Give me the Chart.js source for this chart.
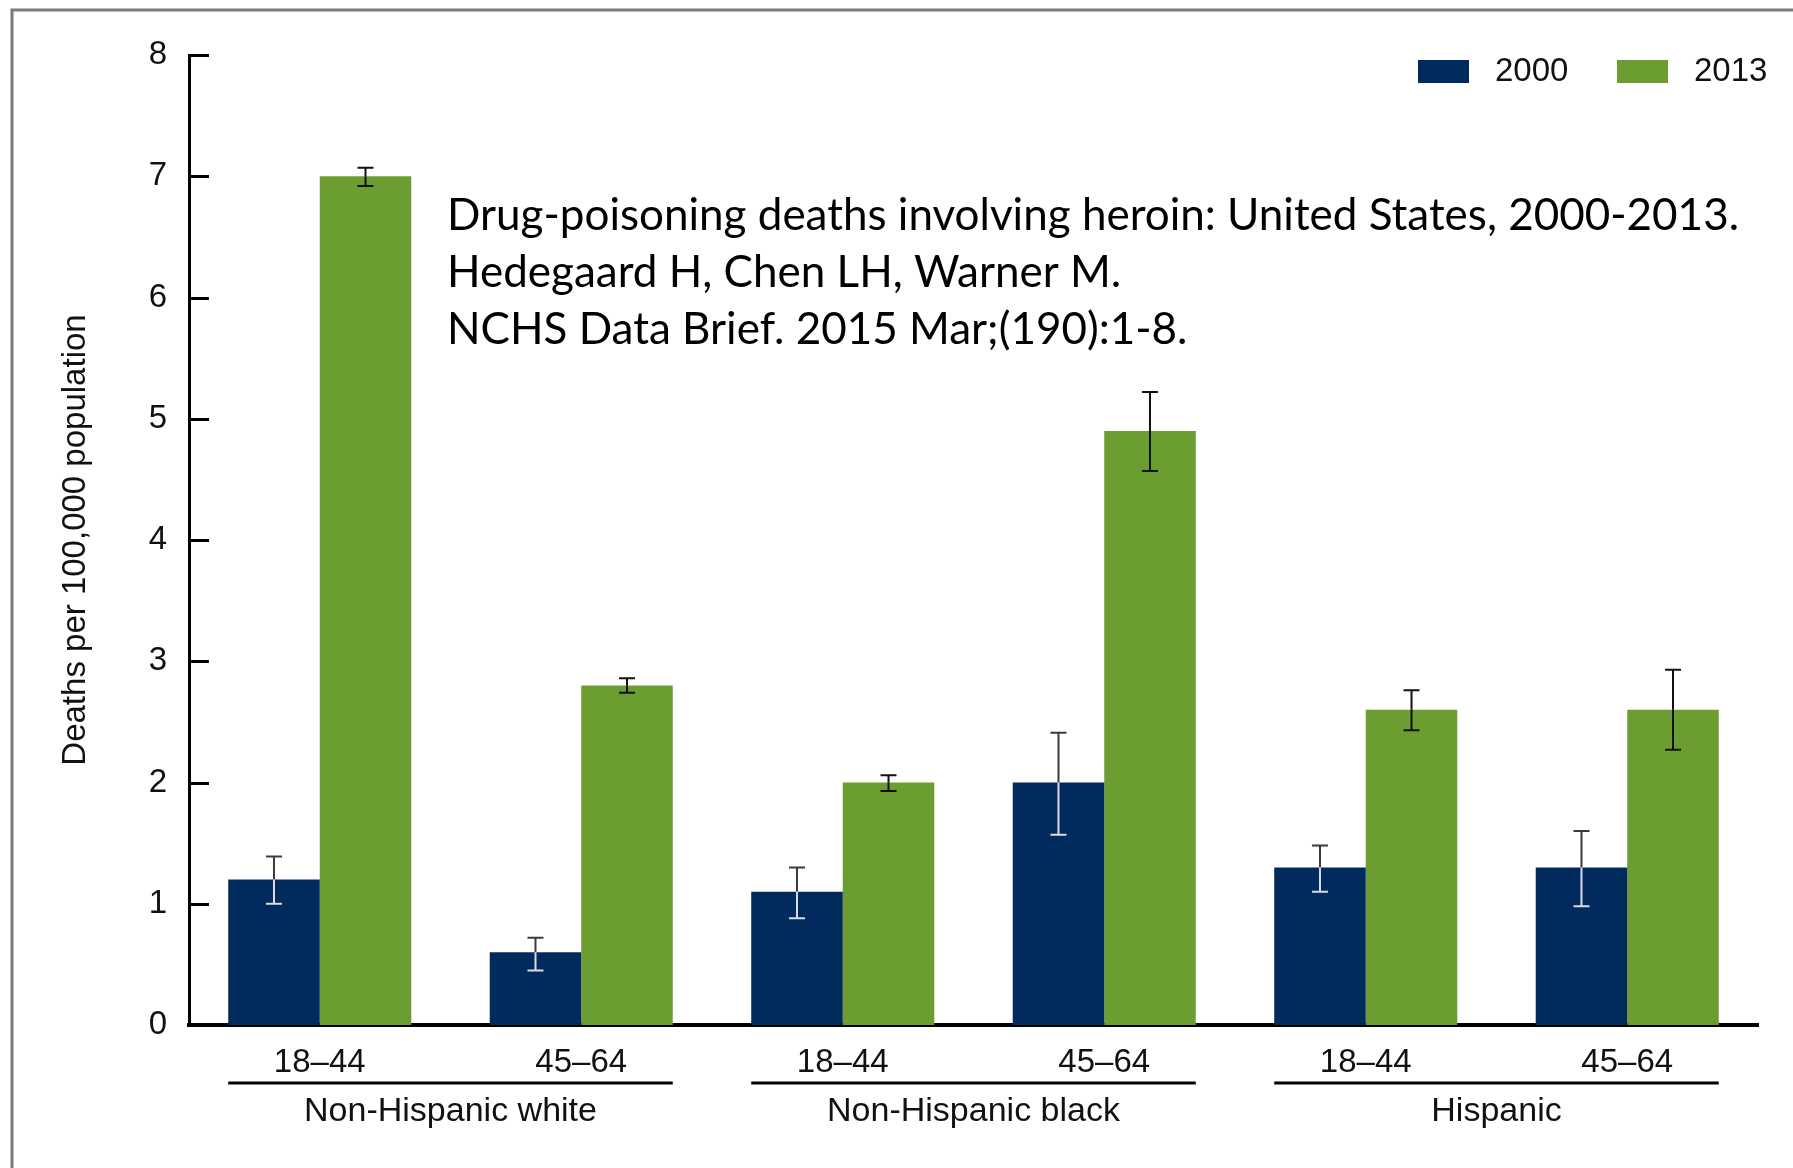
<!DOCTYPE html>
<html>
<head>
<meta charset="utf-8">
<script src="https://cdn.jsdelivr.net/npm/chart.js@4.4.1/dist/chart.umd.min.js"></script>
<style>
  html, body { margin: 0; padding: 0; background: #fff; }
  #wrap { width: 1793px; height: 1168px; }
</style>
</head>
<body>
<div id="wrap"><canvas id="heroinChart"></canvas></div>
<script>
// Age groups along the x axis, three race/ethnicity groups of two
const ageGroups = ['18–44', '45–64', '18–44', '45–64', '18–44', '45–64'];
const raceGroups = ['Non-Hispanic white', 'Non-Hispanic black', 'Hispanic'];
const years = ['2000', '2013'];

// Deaths per 100,000 population
const rate2000 = [1.2, 0.6, 1.1, 2.0, 1.3, 1.3];
const rate2013 = [7.0, 2.8, 2.0, 4.9, 2.6, 2.6];

// 95% confidence intervals
const low2000 = [1.0, 0.45, 0.88, 1.57, 1.1, 0.98];
const high2000 = [1.39, 0.72, 1.3, 2.41, 1.48, 1.6];
const low2013 = [6.92, 2.74, 1.93, 4.57, 2.43, 2.27];
const high2013 = [7.07, 2.86, 2.06, 5.22, 2.76, 2.93];

const yTicks = [0, 1, 2, 3, 4, 5, 6, 7, 8];

const citation = [
  'Drug-poisoning deaths involving heroin: United States, 2000-2013.',
  'Hedegaard H, Chen LH, Warner M.',
  'NCHS Data Brief. 2015 Mar;(190):1-8.'
];

const BLUE = '#002B5C';
const GREEN = '#6B9D31';
const FONT = 'Liberation Sans, Arial, sans-serif';

// frame, inward tick marks, group rules, error bars, legend and citation
const decorations = {
  id: 'decorations',
  beforeDraw(chart) {
    const ctx = chart.ctx;
    ctx.save();
    ctx.strokeStyle = '#7a7a7a';
    ctx.lineWidth = 3;
    ctx.beginPath();
    ctx.moveTo(12, chart.height);
    ctx.lineTo(12, 10);
    ctx.lineTo(chart.width, 10);
    ctx.stroke();
    ctx.restore();
  },
  afterDraw(chart) {
    const ctx = chart.ctx;
    const y = chart.scales.y;
    ctx.save();

    // tick marks pointing into the plot
    ctx.strokeStyle = '#000';
    ctx.lineWidth = 3;
    yTicks.forEach(v => {
      const py = Math.round(y.getPixelForValue(v)) + 0.5;
      ctx.beginPath();
      ctx.moveTo(y.right, py);
      ctx.lineTo(y.right + 20, py);
      ctx.stroke();
    });

    // error bars: dark above the bar, light where they cross a dark bar
    const drawErr = (meta, lows, highs, inside, outside) => {
      meta.data.forEach((bar, i) => {
        const top = y.getPixelForValue(highs[i]);
        const bot = y.getPixelForValue(lows[i]);
        const half = 8;
        ctx.lineWidth = 2;
        ctx.strokeStyle = outside;
        ctx.beginPath();
        ctx.moveTo(bar.x - half, top);
        ctx.lineTo(bar.x + half, top);
        ctx.moveTo(bar.x, top);
        ctx.lineTo(bar.x, Math.min(bar.y, bot));
        ctx.stroke();
        ctx.strokeStyle = inside;
        ctx.beginPath();
        if (bot > bar.y) {
          ctx.moveTo(bar.x, Math.max(bar.y, top));
          ctx.lineTo(bar.x, bot);
          ctx.moveTo(bar.x - half, bot);
          ctx.lineTo(bar.x + half, bot);
        }
        ctx.stroke();
        if (bot <= bar.y) {
          ctx.strokeStyle = outside;
          ctx.beginPath();
          ctx.moveTo(bar.x - half, bot);
          ctx.lineTo(bar.x + half, bot);
          ctx.stroke();
        }
      });
    };
    drawErr(chart.getDatasetMeta(0), low2000, high2000, '#d8dce6', '#3a3a3a');
    drawErr(chart.getDatasetMeta(1), low2013, high2013, '#111', '#111');

    // group rules and race/ethnicity labels
    const m0 = chart.getDatasetMeta(0).data;
    const m1 = chart.getDatasetMeta(1).data;
    ctx.fillStyle = '#111';
    ctx.font = '34px ' + FONT;
    ctx.textAlign = 'center';
    ctx.textBaseline = 'middle';
    raceGroups.forEach((g, k) => {
      const left = m0[2 * k].x - m0[2 * k].width / 2;
      const right = m1[2 * k + 1].x + m1[2 * k + 1].width / 2;
      ctx.lineWidth = 3;
      ctx.strokeStyle = '#000';
      ctx.beginPath();
      ctx.moveTo(left, 1083);
      ctx.lineTo(right, 1083);
      ctx.stroke();
      ctx.fillText(g, (left + right) / 2, 1112);
    });

    // legend
    const items = [
      { label: years[0], color: BLUE, box: 1418 },
      { label: years[1], color: GREEN, box: 1617 }
    ];
    ctx.font = '33px ' + FONT;
    ctx.textAlign = 'left';
    items.forEach(it => {
      ctx.fillStyle = it.color;
      ctx.fillRect(it.box, 60, 51, 23);
      ctx.fillStyle = '#111';
      ctx.fillText(it.label, it.box + 77, 72);
    });

    // citation
    ctx.font = '46px Lato, "Open Sans", sans-serif';
    const w = ctx.measureText(citation[0]).width;
    const size = 46 * 1292 / w;
    ctx.font = size.toFixed(1) + 'px Lato, "Open Sans", sans-serif';
    ctx.fillStyle = '#000';
    ctx.textBaseline = 'alphabetic';
    citation.forEach((line, i) => {
      ctx.fillText(line, 447, 230 + i * 57);
    });

    ctx.restore();
  }
};

const ctx = document.getElementById('heroinChart').getContext('2d');
const heroinChart = new Chart(ctx, {
  type: 'bar',
  data: {
    labels: ageGroups,
    datasets: [
      {
        label: years[0],
        data: rate2000,
        backgroundColor: BLUE,
        borderWidth: 0,
        categoryPercentage: 0.7,
        barPercentage: 1.0
      },
      {
        label: years[1],
        data: rate2013,
        backgroundColor: GREEN,
        borderWidth: 0,
        categoryPercentage: 0.7,
        barPercentage: 1.0
      }
    ]
  },
  options: {
    responsive: true,
    maintainAspectRatio: false,
    animation: false,
    layout: { padding: { top: 55, right: 35, left: 0, bottom: 0 } },
    scales: {
      x: {
        grid: { display: false, drawTicks: false },
        border: { display: true, color: '#000', width: 4 },
        ticks: {
          color: '#111',
          padding: 18,
          font: { family: FONT, size: 33 }
        },
        afterFit(scale) { scale.height = 143; }
      },
      y: {
        min: 0,
        max: 8,
        grid: { display: false, drawTicks: false },
        border: { display: true, color: '#000', width: 3 },
        ticks: {
          stepSize: 1,
          color: '#111',
          padding: 22,
          font: { family: FONT, size: 33 }
        },
        title: {
          display: true,
          text: 'Deaths per 100,000 population',
          color: '#111',
          font: { family: FONT, size: 33 },
          padding: { top: 56, bottom: 0 }
        },
        afterFit(scale) { scale.width = 189; }
      }
    },
    plugins: {
      legend: { display: false },
      tooltip: { enabled: false }
    }
  },
  plugins: [decorations]
});
</script>
</body>
</html>
